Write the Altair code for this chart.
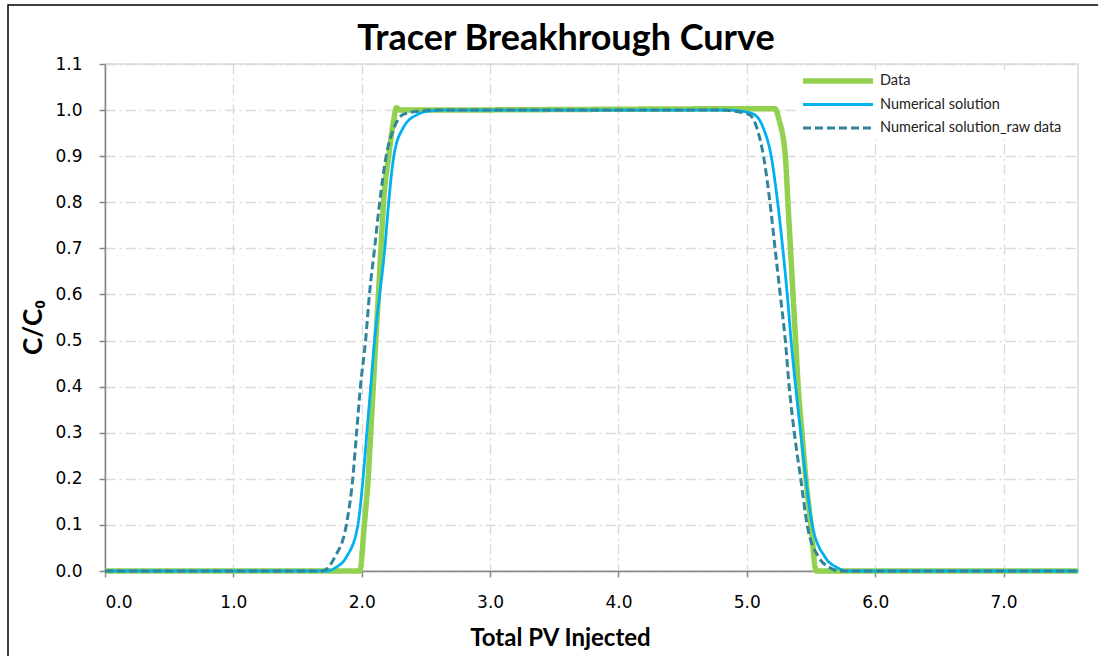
import altair as alt
import pandas as pd

# ---- data ----
data_x = [0, 1.985, 2.02, 2.05, 2.07, 2.09, 2.11, 2.13, 2.15, 2.17, 2.21, 2.25, 2.27, 2.30,
          5.22, 5.25, 5.30, 5.32, 5.34, 5.36, 5.38, 5.40, 5.43, 5.46, 5.50, 5.54, 7.58]
data_y = [0, 0, 0.1, 0.2, 0.3, 0.4, 0.5, 0.6, 0.7, 0.8, 0.9, 0.98, 1.005, 1.0,
          1.003, 0.98, 0.9, 0.8, 0.7, 0.6, 0.5, 0.4, 0.3, 0.2, 0.1, 0, 0]

num_x = [0, 1.73, 1.80, 1.88, 1.97, 2.01, 2.04, 2.07, 2.10, 2.14, 2.18, 2.21, 2.25, 2.32, 2.43, 2.53, 2.65,
         4.85, 4.95, 5.06, 5.13, 5.19, 5.24, 5.28, 5.315, 5.345, 5.38, 5.42, 5.46, 5.51, 5.61, 5.70, 5.78, 7.58]
num_y = [0, 0, 0.008, 0.03, 0.1, 0.2, 0.3, 0.4, 0.5, 0.6, 0.7, 0.8, 0.9, 0.96, 0.99, 0.998, 1.0,
         1.0, 0.998, 0.99, 0.96, 0.9, 0.8, 0.7, 0.6, 0.5, 0.4, 0.3, 0.2, 0.1, 0.03, 0.008, 0, 0]

raw_x = [0, 1.69, 1.74, 1.79, 1.88, 1.93, 1.96, 1.99, 2.03, 2.06, 2.10, 2.14, 2.19, 2.25, 2.32, 2.45, 2.55,
         4.80, 4.89, 5.02, 5.08, 5.13, 5.18, 5.22, 5.26, 5.30, 5.33, 5.37, 5.42, 5.47, 5.56, 5.64, 5.73, 7.58]
raw_y = [0, 0, 0.008, 0.03, 0.1, 0.2, 0.3, 0.4, 0.5, 0.6, 0.7, 0.8, 0.9, 0.96, 0.99, 0.998, 1.0,
         1.0, 0.998, 0.99, 0.96, 0.9, 0.8, 0.7, 0.6, 0.5, 0.4, 0.3, 0.2, 0.1, 0.03, 0.008, 0, 0]

series_names = ["Data", "Numerical solution", "Numerical solution_raw data"]
series_colors = ["#92D050", "#00B0F0", "#31849B"]
series_dash = [[1, 0], [1, 0], [8, 4]]
series_width = [5.5, 2.8, 3]

x_ticks = [0, 1, 2, 3, 4, 5, 6, 7]
y_ticks = [0, 0.1, 0.2, 0.3, 0.4, 0.5, 0.6, 0.7, 0.8, 0.9, 1.0, 1.1]

chart_title = "Tracer Breakhrough Curve"

rows = []
for name, xs, ys in zip(series_names, [data_x, num_x, raw_x], [data_y, num_y, raw_y]):
    for i, (x, y) in enumerate(zip(xs, ys)):
        rows.append({"series": name, "pv": x, "c": y, "i": i})
df = pd.DataFrame(rows)

FONT = "Lato"
TICK_FONT = "DejaVu Sans"
GRID = "#D9D9D9"
AXIS = "#868686"

x_enc = alt.X("pv:Q",
              scale=alt.Scale(domain=[0, 7.58], nice=False, zero=False),
              axis=alt.Axis(values=x_ticks, format=".1f", title="Total PV Injected",
                            titleX=455, titleY=74, titleAlign="center", titleBaseline="alphabetic",
                            labelPadding=17, tickSize=6))
y_enc = alt.Y("c:Q",
              scale=alt.Scale(domain=[0, 1.1], nice=False),
              axis=alt.Axis(values=y_ticks, format=".1f", title="C/C₀",
                            titleX=-72, titleY=263, titleAngle=270, titleAlign="center",
                            titleBaseline="middle", titleFontSize=26, labelPadding=17, tickSize=6))

layers = []
for name, col, dash, w in zip(series_names, series_colors, series_dash, series_width):
    layers.append(
        alt.Chart(df).transform_filter(alt.datum.series == name)
        .mark_line(interpolate="monotone", strokeCap="butt", color=col, strokeDash=dash, strokeWidth=w)
        .encode(x=x_enc, y=y_enc, order="i:Q")
    )

# ---- legend (drawn by hand, inside the plot at top right) ----
LEG_X0, LEG_X1, LEG_Y0, LEG_DY = 698, 768, 17, 23.5
one = alt.Data(values=[{"a": 1}])
legend_layers = [
    alt.Chart(one).mark_rect(fill="white").encode(
        x=alt.value(LEG_X0 - 6), x2=alt.value(972), y=alt.value(LEG_Y0 - 11), y2=alt.value(LEG_Y0 + 2 * LEG_DY + 11))
]
for k, (name, col, dash, w) in enumerate(zip(series_names, series_colors, series_dash, series_width)):
    yk = LEG_Y0 + k * LEG_DY
    legend_layers.append(
        alt.Chart(one).mark_rule(color=col, strokeDash=dash, strokeWidth=w, strokeCap="butt").encode(
            x=alt.value(LEG_X0), x2=alt.value(LEG_X1), y=alt.value(yk), y2=alt.value(yk)))
    legend_layers.append(
        alt.Chart(alt.Data(values=[{"t": name}])).mark_text(
            font=FONT, fontSize=14.5, color="#222222", align="left", baseline="middle").encode(
            text="t:N", x=alt.value(LEG_X1 + 7), y=alt.value(yk)))

frame = alt.Chart(one).mark_rect(
    fill="transparent", stroke="black", strokeWidth=1.5
).encode(x=alt.value(-97), x2=alt.value(1200), y=alt.value(-59), y2=alt.value(800))

title_mark = alt.Chart(alt.Data(values=[{"t": chart_title}])).mark_text(
    font=FONT, fontSize=36, fontWeight="bold", color="black",
    align="center", baseline="alphabetic"
).encode(text="t:N", x=alt.value(461), y=alt.value(-14))

chart = alt.layer(*layers, *legend_layers, frame, title_mark).properties(
    width=973, height=507,
    background="white",
    autosize=alt.AutoSizeParams(type="none"),
    padding={"left": 105, "top": 64, "right": 20, "bottom": 85},
).configure_view(
    stroke=GRID, strokeWidth=1.5
).configure_axis(
    grid=True, gridColor=GRID, gridDash=[10, 4, 2, 4], gridWidth=1.3,
    domainColor=AXIS, domainWidth=1.5, tickColor=AXIS, tickWidth=1.5,
    labelFont=TICK_FONT, labelFontSize=17, labelColor="black",
    titleFont=FONT, titleFontSize=24, titleFontWeight="bold", titleColor="black",
)

chart.save("out.html", embed_options={"renderer": "svg", "actions": False})
